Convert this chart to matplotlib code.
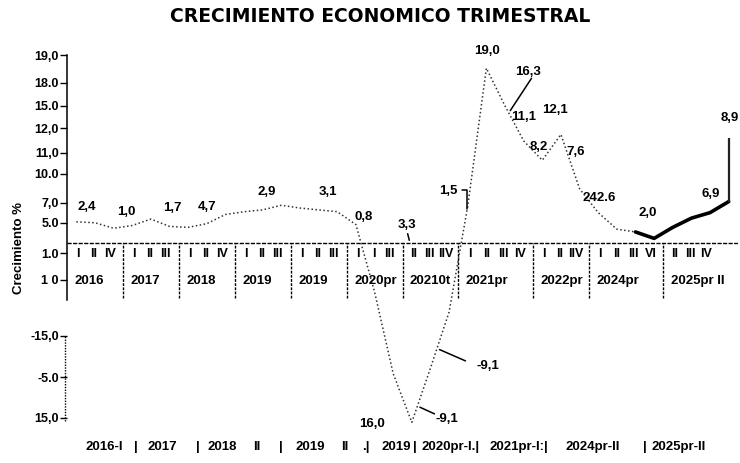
import numpy as np
import matplotlib
matplotlib.use("Agg")
import matplotlib.pyplot as plt

# ---------------- data ----------------
title = "CRECIMIENTO ECONOMICO TRIMESTRAL"
ylabel = "Crecimiento %"

# quarterly growth values (one per quarter, 2016-I ... 2025)
growth = [2.3, 2.2, 1.6, 1.9, 2.6, 1.8, 1.7, 2.1, 3.1, 3.4, 3.6, 4.1,
          3.8, 3.6, 3.4, 2.0, -5.3, -14.2, -19.5, -13.6, -7.5, 4.0, 19.0, 14.9,
          11.1, 9.0, 11.8, 5.9, 3.3, 1.5, 1.2, 0.5, 1.7, 2.7, 3.3, 4.5]
final_spike = 11.4
thick_from = 30  # index where the line turns solid

ytick_labels = ["19,0", "18.0", "15.0", "12,0", "11,0", "10.0", "7,0", "5.0",
                "1.0", "1 0", "-15,0", "-5.0", "15,0"]
ytick_values = [20.4, 17.4, 14.9, 12.5, 9.8, 7.5, 4.35, 2.2,
                -1.1, -4.0, -10.1, -14.6, -19.0]

year_labels = ["2016", "2017", "2018", "2019", "2019", "2020pr", "20210t",
               "2021pr", "2022pr", "2024pr", "2025pr II"]
quarter_labels = [["I", "II", "IV"], ["I", "II", "III"], ["I", "II", "IV"],
                  ["I", "II", "III"], ["I", "II", "III"], ["I", "I", "III"],
                  ["II", "III", "IIV"], ["I", "II", "III", "IV"],
                  ["I", "II", "IIV"], ["I", "II", "III", "VI"],
                  ["II", "III", "IV"]]
group_sizes = [3, 3, 3, 3, 3, 3, 3, 4, 3, 4, 4]

point_labels = ["2,4", "1,0", "1,7", "4,7", "2,9", "3,1", "0,8", "3,3", "1,5",
                "19,0", "16,3", "11,1", "12,1", "8,2", "7,6", "242.6", "2,0",
                "6,9", "8,9", "16,0", "-9,1", "-9,1"]

bottom_parts = ["2016-I", "|", "2017", "|", "2018", "II", "|", "2019", "II",
                ".|", "2019", "|", "2020pr-I.|", "2021pr-I:|", "2024pr-II",
                "|", "2025pr-II"]

# ---------------- figure ----------------
W, H = 740, 463
fig = plt.figure(figsize=(W / 100, H / 100), dpi=100)
fig.patch.set_facecolor("white")

def fx(x):
    return x / W

def fy(y):
    return 1 - y / H

ax = fig.add_axes([fx(67), fy(430), fx(738) - fx(67), fy(50) - fy(430)])
ax.set_xlim(-0.5, len(growth) - 0.5)
ax.set_ylim(-20.33, 20.98)
ax.patch.set_alpha(0)

xq = np.arange(len(growth))
g = np.array(growth)

# dotted part
ax.plot(xq[:thick_from + 1], g[:thick_from + 1], color="#333333", lw=1.1,
        linestyle=(0, (1, 1.6)), zorder=3)
# thick solid part
ax.plot(xq[thick_from:], g[thick_from:], color="black", lw=2.6,
        solid_capstyle="round", zorder=4)
# final vertical jump
ax.vlines(xq[-1], g[-1], final_spike, color="#222222", lw=1.6, zorder=4)

# baseline
ax.axhline(0, color="black", lw=1.0, linestyle=(0, (3, 1)), zorder=2)

# spines
for s in ["top", "right", "bottom"]:
    ax.spines[s].set_visible(False)
ax.spines["left"].set_bounds(-6.2, 20.4)
ax.spines["left"].set_linestyle((0, (1, 1)))
ax.spines["left"].set_linewidth(1.1)
ax.vlines(-0.6, -19.3, -10.1, color="black", lw=1.0,
          linestyle=(0, (1, 1)), clip_on=False)

ax.set_xticks([])
ax.set_yticks(ytick_values)
ax.set_yticklabels(ytick_labels, fontsize=9, fontweight="bold",
                   family="Liberation Sans")
ax.tick_params(axis="y", length=5, width=1.0, pad=1)

# category table below the baseline
edges = np.concatenate([[-0.5], -0.5 + np.cumsum(group_sizes)])
for k in range(len(group_sizes)):
    a = edges[k]
    if k > 0:
        ax.vlines(a, -6.0, 0, color="black", lw=1.0,
                  linestyle=(0, (2, 1)), zorder=2)
    n = len(quarter_labels[k])
    step = 0.85 if n == 3 else 0.9
    for j, q in enumerate(quarter_labels[k]):
        ax.text(a + 0.6 + j * step, -1.2, q, ha="center", va="center",
                fontsize=9, fontweight="bold", family="Liberation Sans")
    ax.text(a + 0.4, -4.1, year_labels[k], ha="left", va="center",
            fontsize=9.5, fontweight="bold", family="Liberation Sans")

# ---------------- texts ----------------
fig.text(fx(380), fy(16), title, ha="center", va="center", fontsize=13.5,
         fontweight="heavy", family="DejaVu Sans")
fig.text(fx(19), fy(248), ylabel, ha="center", va="center", rotation=90,
         fontsize=9.5, fontweight="bold", family="Liberation Sans")

label_pos = [(87, 207), (126, 212), (172, 208), (207, 207), (267, 192),
             (328, 192), (364, 217), (407, 225), (448, 191), (487, 51),
             (528, 72), (524, 117), (555, 110), (539, 147), (576, 152),
             (599, 198), (648, 213), (711, 194), (730, 118), (372, 424),
             (447, 419), (488, 366)]
for txt, (px, py) in zip(point_labels, label_pos):
    fig.text(fx(px), fy(py), txt, ha="center", va="center", fontsize=9.5,
             fontweight="bold", family="Liberation Sans")

bottom_x = [85, 134, 147, 196, 208, 253, 279, 295, 341, 362, 382, 413,
            421, 489, 565, 643, 652]
for txt, px in zip(bottom_parts, bottom_x):
    fig.text(fx(px), fy(447), txt, ha="left", va="center",
             fontsize=9.5, fontweight="bold", family="Liberation Sans")

# leader lines
def on_line(xi):
    return (xi, float(np.interp(xi, xq, g)))

lp = dict(arrowstyle="-", color="black", lw=1.1)
# 16,3
ax.annotate("", xy=on_line(23.2), xytext=(533, H - 76),
            textcoords="figure pixels", arrowprops=lp)
# 1,5
ax.annotate("", xy=on_line(20.95), xytext=(459, H - 190),
            textcoords="figure pixels",
            arrowprops=dict(arrowstyle="-", color="black", lw=1.1,
                            connectionstyle="angle,angleA=0,angleB=90,rad=0"))
# 3,3
ax.annotate("", xy=(17.9, 0), xytext=(407, H - 231),
            textcoords="figure pixels", arrowprops=lp)
# -9,1 upper
ax.annotate("", xy=on_line(19.35), xytext=(468, H - 362),
            textcoords="figure pixels", arrowprops=lp)
# -9,1 lower
ax.annotate("", xy=on_line(18.3), xytext=(437, H - 415),
            textcoords="figure pixels", arrowprops=lp)

fig.savefig("out.png", dpi=100, facecolor="white")
